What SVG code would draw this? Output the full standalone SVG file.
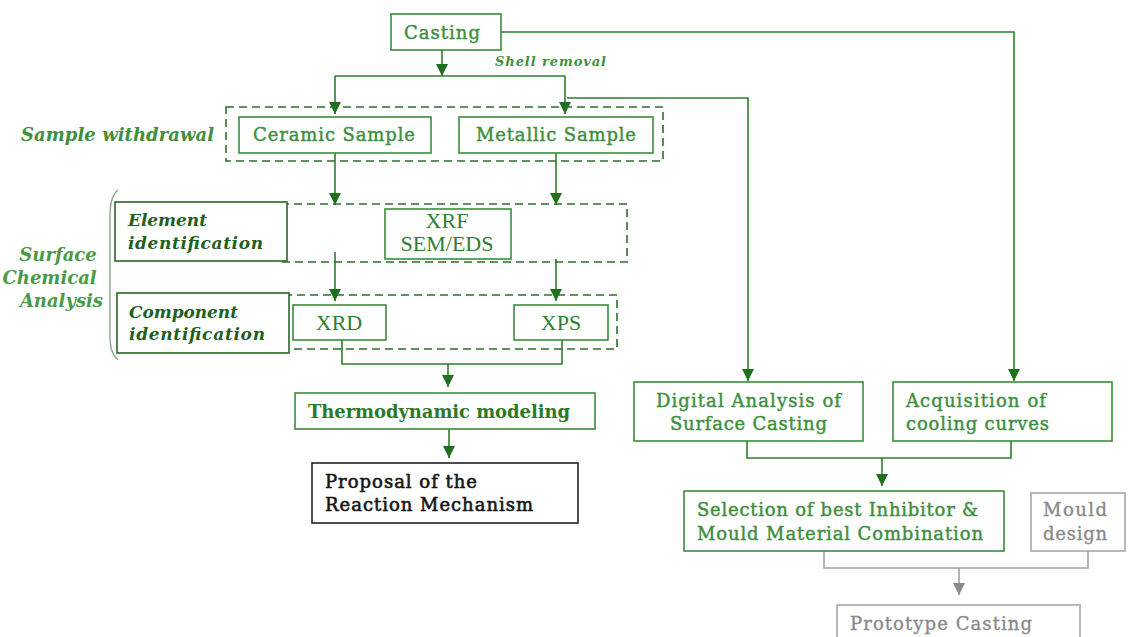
<svg xmlns="http://www.w3.org/2000/svg" width="1128" height="637" viewBox="0 0 1128 637">
  <style>
    .box { fill: #ffffff; stroke: #3a8c3a; stroke-width: 1.6; }
    .dbox { fill: none; stroke: #2f6f2f; stroke-width: 1.6; stroke-dasharray: 8 5; }
    .sbox { fill: #ffffff; stroke: #2a662a; stroke-width: 1.6; }
    .gbox { fill: #ffffff; stroke: #a8a8a8; stroke-width: 1.6; }
    .kbox { fill: #ffffff; stroke: #222222; stroke-width: 1.6; }
    .lbl { font-family: "DejaVu Serif", "Liberation Serif", serif; font-size: 18px; fill: #3f8f3f; stroke: #3f8f3f; stroke-width: 0.45; }
    .thermo { font-family: "DejaVu Serif", "Liberation Serif", serif; font-size: 18px; font-weight: bold; fill: #2a7a2a; }
    .black { font-family: "DejaVu Serif", "Liberation Serif", serif; font-size: 18px; fill: #151515; stroke: #151515; stroke-width: 0.6; }
    .tms { font-family: "Liberation Serif", "Times New Roman", serif; font-size: 22px; fill: #2f7f2f; }
    .ital { font-family: "DejaVu Serif", "Liberation Serif", serif; font-style: italic; font-weight: bold; fill: #3f8f3f; }
    .ital-l { font-family: "DejaVu Serif", "Liberation Serif", serif; font-style: italic; font-weight: bold; font-size: 18px; fill: #4a9a4a; }
    .side { font-family: "DejaVu Serif", "Liberation Serif", serif; font-style: italic; font-weight: bold; font-size: 17px; fill: #1f5f1f; }
    .gtx { font-family: "DejaVu Serif", "Liberation Serif", serif; font-size: 18px; fill: #8a8a8a; stroke: #8a8a8a; stroke-width: 0.35; }
    .conn { fill: none; stroke: #2a7f2a; stroke-width: 1.6; }
    .gconn { fill: none; stroke: #a0a0a0; stroke-width: 1.6; }
  </style>
  <defs>
    <marker id="arr" markerUnits="userSpaceOnUse" markerWidth="12" markerHeight="12" viewBox="0 0 12 12" refX="12" refY="6" orient="auto">
      <path d="M0,0 L12,6 L0,12 Z" fill="#1f6f1f"/>
    </marker>
    <marker id="garr" markerUnits="userSpaceOnUse" markerWidth="12" markerHeight="12" viewBox="0 0 12 12" refX="12" refY="6" orient="auto">
      <path d="M0,0 L12,6 L0,12 Z" fill="#8a8a8a"/>
    </marker>
  </defs>

  <!-- connectors -->
  <g id="connectors">
    <path class="conn" d="M442,50 V76" marker-end="url(#arr)"/>
    <path class="conn" d="M335,76 H565"/>
    <path class="conn" d="M335,76 V114" marker-end="url(#arr)"/>
    <path class="conn" d="M565,76 V114" marker-end="url(#arr)"/>
    <path class="conn" d="M501,32 H1014 V381" marker-end="url(#arr)"/>
    <path class="conn" d="M567,98 H748 V381" marker-end="url(#arr)"/>
    <path class="conn" d="M335,153 V205" marker-end="url(#arr)"/>
    <path class="conn" d="M556,153 V205" marker-end="url(#arr)"/>
    <path class="conn" d="M335,252 V301" marker-end="url(#arr)"/>
    <path class="conn" d="M556,259 V301" marker-end="url(#arr)"/>
    <path class="conn" d="M342,340 V364 H562 V340"/>
    <path class="conn" d="M448,364 V387" marker-end="url(#arr)"/>
    <path class="conn" d="M449,429 V458" marker-end="url(#arr)"/>
    <path class="conn" d="M747,441 V458 H1011 V441"/>
    <path class="conn" d="M882,458 V486" marker-end="url(#arr)"/>
    <path class="gconn" d="M824,551 V568 H1088 V551"/>
    <path class="gconn" d="M959,568 V595" marker-end="url(#garr)"/>
  </g>

  <!-- labels outside boxes -->
  <text class="ital" x="495" y="66" font-size="13" textLength="111">Shell removal</text>
  <text class="ital" x="21" y="141" font-size="18" textLength="193">Sample withdrawal</text>
  <g id="surface-chemical-analysis">
    <path d="M118,190 C111,196 110,206 110,218 V334 C110,348 112,355 118,360" fill="none" stroke="#8aa88a" stroke-width="1.4"/>
    <text class="ital-l" text-anchor="end">
      <tspan x="103" y="261">Surface</tspan>
      <tspan x="103" y="284">Chemical</tspan>
      <tspan x="103" y="307">Analysis</tspan>
    </text>
  </g>

  <!-- dashed groupings -->
  <rect class="dbox" x="226" y="107" width="437" height="54"/>
  <rect class="dbox" x="281" y="204" width="346" height="58"/>
  <rect class="dbox" x="284" y="295" width="333" height="54"/>

  <g id="casting">
    <rect class="box" x="391" y="14" width="110" height="36"/>
    <text class="lbl" x="404" y="39" textLength="76">Casting</text>
  </g>

  <g id="ceramic-sample">
    <rect class="box" x="239" y="117" width="192" height="36"/>
    <text class="lbl" x="253" y="141" textLength="162">Ceramic Sample</text>
  </g>

  <g id="metallic-sample">
    <rect class="box" x="459" y="117" width="194" height="36"/>
    <text class="lbl" x="476" y="141" textLength="160">Metallic Sample</text>
  </g>

  <g id="element-identification">
    <rect class="sbox" x="115" y="202" width="172" height="59"/>
    <text class="side"><tspan x="128" y="226" textLength="79">Element</tspan><tspan x="128" y="249" textLength="135">identification</tspan></text>
  </g>

  <g id="xrf-sem-eds">
    <rect class="box" x="385" y="209" width="126" height="50"/>
    <text class="tms" text-anchor="middle" font-size="19"><tspan x="447" y="228">XRF</tspan><tspan x="447" y="251">SEM/EDS</tspan></text>
  </g>

  <g id="component-identification">
    <rect class="sbox" x="117" y="293" width="172" height="60"/>
    <text class="side"><tspan x="129" y="318" textLength="109">Component</tspan><tspan x="129" y="340" textLength="136">identification</tspan></text>
  </g>

  <g id="xrd">
    <rect class="box" x="293" y="305" width="93" height="35"/>
    <text class="tms" x="339" y="330" text-anchor="middle">XRD</text>
  </g>

  <g id="xps">
    <rect class="box" x="514" y="305" width="94" height="35"/>
    <text class="tms" x="561" y="330" text-anchor="middle">XPS</text>
  </g>

  <g id="thermodynamic-modeling">
    <rect class="box" x="295" y="393" width="300" height="36"/>
    <text class="thermo" x="308" y="418" textLength="262">Thermodynamic modeling</text>
  </g>

  <g id="reaction-mechanism">
    <rect class="kbox" x="312" y="463" width="266" height="60"/>
    <text class="black"><tspan x="325" y="488" textLength="152">Proposal of the</tspan><tspan x="325" y="511" textLength="208">Reaction Mechanism</tspan></text>
  </g>

  <g id="digital-analysis">
    <rect class="box" x="634" y="382" width="229" height="59"/>
    <text class="lbl" text-anchor="middle"><tspan x="748.5" y="407" textLength="185">Digital Analysis of</tspan><tspan x="748.5" y="430" textLength="157">Surface Casting</tspan></text>
  </g>

  <g id="cooling-curves">
    <rect class="box" x="893" y="382" width="219" height="59"/>
    <text class="lbl"><tspan x="906" y="407" textLength="140">Acquisition of</tspan><tspan x="906" y="430" textLength="143">cooling curves</tspan></text>
  </g>

  <g id="selection">
    <rect class="box" x="684" y="491" width="320" height="60"/>
    <text class="lbl"><tspan x="697" y="516" textLength="281">Selection of best Inhibitor &amp;</tspan><tspan x="697" y="540" textLength="286">Mould Material Combination</tspan></text>
  </g>

  <g id="mould-design">
    <rect class="gbox" x="1031" y="493" width="94" height="58"/>
    <text class="gtx"><tspan x="1043" y="516" textLength="64">Mould</tspan><tspan x="1043" y="540" textLength="64">design</tspan></text>
  </g>

  <g id="prototype-casting">
    <rect class="gbox" x="837" y="605" width="243" height="40"/>
    <text class="gtx" x="850" y="630" textLength="182">Prototype Casting</text>
  </g>
</svg>
